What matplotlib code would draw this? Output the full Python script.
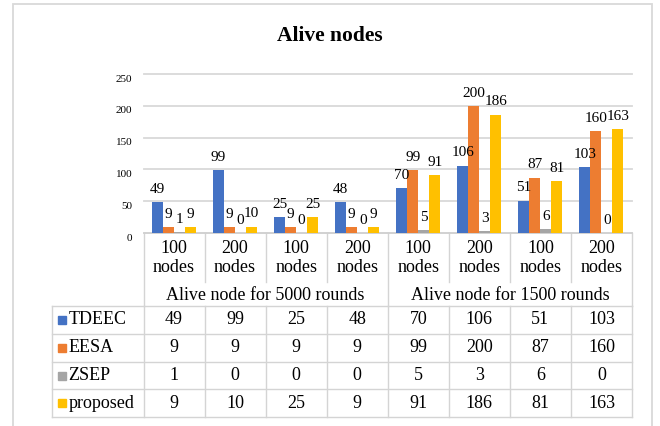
import matplotlib.pyplot as plt
import numpy as np
from matplotlib.transforms import blended_transform_factory, ScaledTranslation
from matplotlib.patches import Rectangle

plt.rcParams['font.family'] = ['Liberation Serif', 'DejaVu Serif']

# data
categories = ['100\nnodes', '200\nnodes', '100\nnodes', '200\nnodes',
              '100\nnodes', '200\nnodes', '100\nnodes', '200\nnodes']
groups = ['Alive node for 5000 rounds', 'Alive node for 1500 rounds']
series = ['TDEEC', 'EESA', 'ZSEP', 'proposed']
tdeec = [49, 99, 25, 48, 70, 106, 51, 103]
eesa = [9, 9, 9, 9, 99, 200, 87, 160]
zsep = [1, 0, 0, 0, 5, 3, 6, 0]
proposed = [9, 10, 25, 9, 91, 186, 81, 163]
values = [tdeec, eesa, zsep, proposed]
colors = ['#4472C4', '#ED7D31', '#A5A5A5', '#FFC000']

W, H = 660, 426
fig = plt.figure(figsize=(W / 100, H / 100), dpi=100)

def fy(py):
    return 1 - py / H

# plot area in pixels: x 143.5..632, y 74..233
ax = fig.add_axes([143.5 / W, fy(233), (632 - 143.5) / W, (233 - 74) / H])
n = len(categories)
x = np.arange(n)
bw = 0.18
for k, (name, vals) in enumerate(zip(series, values)):
    bars = ax.bar(x + (k - 1.5) * bw, vals, bw, color=colors[k], label=name, zorder=3)
    for t in ax.bar_label(bars, padding=4.5, fontsize=11):
        t.set_zorder(6)

ax.set_xlim(-0.5, n - 0.5)
ax.set_ylim(0, 250)
ax.set_yticks(range(0, 251, 50))
ax.set_xticks([])
ax.tick_params(axis='y', length=0, pad=8, labelsize=8)
off = ScaledTranslation(0, -3 / 72, fig.dpi_scale_trans)
for lab in ax.get_yticklabels():
    lab.set_transform(lab.get_transform() + off)
ax.yaxis.grid(True, color='#D9D9D9', lw=1.3)
for gl in ax.get_ygridlines():
    gl.set_clip_on(False)
ax.set_axisbelow(True)
for s in ['top', 'left', 'right']:
    ax.spines[s].set_visible(False)
ax.spines['bottom'].set_color('#D0D0D0')
ax.spines['bottom'].set_linewidth(1.2)

fig.text(0.5, fy(36), 'Alive nodes', ha='center', va='center',
         fontsize=15.5, fontweight='bold')

# outer chart border
fig.patches.append(Rectangle((13 / W, -0.05), (652 - 13) / W, fy(4) + 0.05,
                             transform=fig.transFigure, fill=False,
                             edgecolor='#D9D9D9', lw=1.3))

# data table drawn under the axis
tr = blended_transform_factory(ax.transData, fig.transFigure)
lc = '#D4D4D4'

def hline(x0, x1, py):
    ax.plot([x0, x1], [fy(py), fy(py)], color=lc, lw=1, transform=tr, clip_on=False)

def vline(xd, py0, py1):
    ax.plot([xd, xd], [fy(py0), fy(py1)], color=lc, lw=1, transform=tr, clip_on=False)

left_col = -2.0
right = n - 0.5
for b in np.arange(-0.5, n, 1.0):
    if b in (-0.5, 3.5, n - 0.5):
        vline(b, 233, 306)
    else:
        vline(b, 233, 282)

for i, c in enumerate(categories):
    ax.text(i, fy(258), c, transform=tr, ha='center', va='center',
            fontsize=13, linespacing=1.2)
for g, name in enumerate(groups):
    ax.text(g * 4 + 1.5, fy(295), name, transform=tr, ha='center', va='center',
            fontsize=13)

rows = [306, 334, 362, 389, 417]
for py in rows:
    hline(left_col, right, py)
for b in [left_col] + list(np.arange(-0.5, n, 1.0)):
    vline(b, rows[0], rows[-1])

for k, (name, vals) in enumerate(zip(series, values)):
    yc = fy((rows[k] + rows[k + 1]) / 2)
    ax.plot([left_col + 0.16], [yc], marker='s', ms=5.2, color=colors[k],
            transform=tr, clip_on=False)
    ax.text(left_col + 0.27, yc, name, transform=tr, ha='left', va='center',
            fontsize=13)
    for i, v in enumerate(vals):
        ax.text(i, yc, str(v), transform=tr, ha='center', va='center', fontsize=13)

fig.savefig('out.png', dpi=100)
